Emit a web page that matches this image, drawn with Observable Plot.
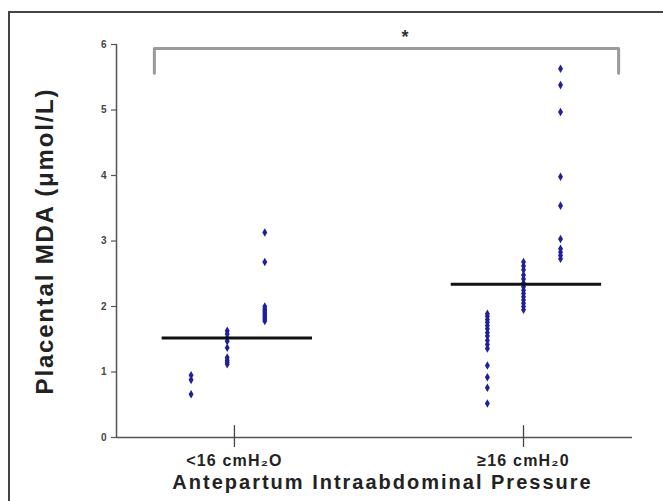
<!DOCTYPE html>
<html>
<head>
<meta charset="utf-8">
<script src="https://cdn.jsdelivr.net/npm/d3@7"></script>
<script src="https://cdn.jsdelivr.net/npm/@observablehq/plot@0.6"></script>
<style>
  html, body { margin: 0; padding: 0; background: #fff; }
  #wrap { position: relative; width: 663px; height: 501px; overflow: hidden; }
  #frame { position: absolute; left: 8px; top: 11px; right: -10px; bottom: -10px;
           border-left: 2px solid #444; border-top: 2px solid #444; }
  #chart { position: absolute; left: 0; top: 0; }
</style>
</head>
<body>
<div id="wrap"><div id="frame"></div><div id="chart"></div></div>
<script>
// ---- data ----
const groups = ["<16 cmH\u2082O", "\u226516 cmH\u20820"];
// three point columns per group (values in µmol/L)
const low_colA  = [0.95, 0.88, 0.66];
const low_colB  = [1.63, 1.58, 1.52, 1.47, 1.37, 1.22, 1.18, 1.15, 1.12];
const low_colC  = [3.13, 2.68, 2.00, 1.96, 1.93, 1.90, 1.87, 1.84, 1.81, 1.78];
const high_colA = [1.89, 1.85, 1.80, 1.76, 1.71, 1.66, 1.60, 1.55, 1.48, 1.42, 1.36, 1.10, 0.92, 0.76, 0.52];
const high_colB = [2.68, 2.62, 2.56, 2.48, 2.42, 2.36, 2.30, 2.25, 2.20, 2.15, 2.10, 2.05, 2.00, 1.95];
const high_colC = [5.63, 5.38, 4.97, 3.98, 3.54, 3.03, 2.88, 2.83, 2.78, 2.73];
const means = [1.52, 2.34];
const yTicks = [0, 1, 2, 3, 4, 5, 6];
const signif = "*";
const bracketLevel = [5.56, 5.94];
const yTitle = "Placental MDA (\u03bcmol/L)";
const xTitle = "Antepartum Intraabdominal Pressure";

// ---- layout helpers (column offsets in group units) ----
const colOffsets = [[-0.15, -0.025, 0.105], [-0.125, 0, 0.128]];
const meanSpan = [-0.25, 0.27];
const bracketPad = [-0.277, 0.329];
const xDomain = [-0.408, 1.377];

const cols = [[low_colA, low_colB, low_colC], [high_colA, high_colB, high_colC]];
const points = [];
cols.forEach((g, gi) => g.forEach((c, ci) => c.forEach(v =>
  points.push({x: gi + colOffsets[gi][ci], y: v}))));
const meanRows = means.map((m, i) => ({x1: i + meanSpan[0], x2: i + meanSpan[1], y: m}));
const bx1 = 0 + bracketPad[0], bx2 = 1 + bracketPad[1];
const bracket = [
  {x: bx1, y: bracketLevel[0]}, {x: bx1, y: bracketLevel[1]},
  {x: bx2, y: bracketLevel[1]}, {x: bx2, y: bracketLevel[0]}
];

const font = "Liberation Sans, Arial, sans-serif";

const chart = Plot.plot({
  width: 663,
  height: 501,
  marginLeft: 116,
  marginRight: 31,
  marginTop: 44,
  marginBottom: 64,
  style: {background: "transparent", fontFamily: font},
  x: {type: "linear", domain: xDomain, axis: null},
  y: {type: "linear", domain: [0, 6], axis: null},
  marks: [
    // y axis
    Plot.ruleX([xDomain[0]], {y1: 0, y2: 6, stroke: "#555", strokeWidth: 1.5}),
    Plot.axisY({ticks: yTicks, tickFormat: d3.format("d"), tickSize: 5, tickPadding: 5, stroke: "#555",
      strokeWidth: 1.2, fontSize: 10, fontWeight: "bold", fill: "#444", label: null, fontFamily: font}),
    // x axis
    Plot.ruleY([0], {stroke: "#555", strokeWidth: 1.5}),
    Plot.axisX({ticks: [0, 1], tickFormat: i => groups[i], tickSize: 10, tickPadding: 7,
      stroke: "#444", strokeWidth: 1.3, fontSize: 16, fontWeight: "bold", fill: "#222",
      label: null, fontFamily: font}),
    Plot.ruleX([0, 1], {y1: 0, y2: 0.18, stroke: "#444", strokeWidth: 1.3}),
    // axis titles
    Plot.text([yTitle], {frameAnchor: "left", dx: -71, rotate: -90,
      textAnchor: "middle", fontSize: 24, fontWeight: "bold", fill: "#222", fontFamily: font}),
    Plot.text([xTitle], {frameAnchor: "bottom", dx: 8, dy: 51,
      fontSize: 20, fontWeight: "bold", fill: "#222", fontFamily: font}),
    // significance bracket
    Plot.line(bracket, {x: "x", y: "y", stroke: "#9a9a9a", strokeWidth: 3}),
    Plot.text([signif], {x: 0.59, y: bracketLevel[1], dy: -11, fontSize: 18,
      fontWeight: "bold", fill: "#333", fontFamily: font}),
    // data points
    Plot.dot(points, {x: "x", y: "y", r: 2.6, fill: "#20209c", stroke: "none", symbol: "diamond"}),
    // mean lines
    Plot.ruleY(meanRows, {x1: "x1", x2: "x2", y: "y", stroke: "#111", strokeWidth: 3})
  ]
});
// widen the (horizontally stretched) lettering of the original
d3.select(chart).selectAll("text").each(function() {
  const t = this.textContent;
  if (t === yTitle) this.setAttribute("letter-spacing", "1.8");
  else if (t === xTitle) this.setAttribute("letter-spacing", "2");
  else if (groups.includes(t)) this.setAttribute("letter-spacing", "1.2");
});
document.getElementById("chart").appendChild(chart);
</script>
</body>
</html>
